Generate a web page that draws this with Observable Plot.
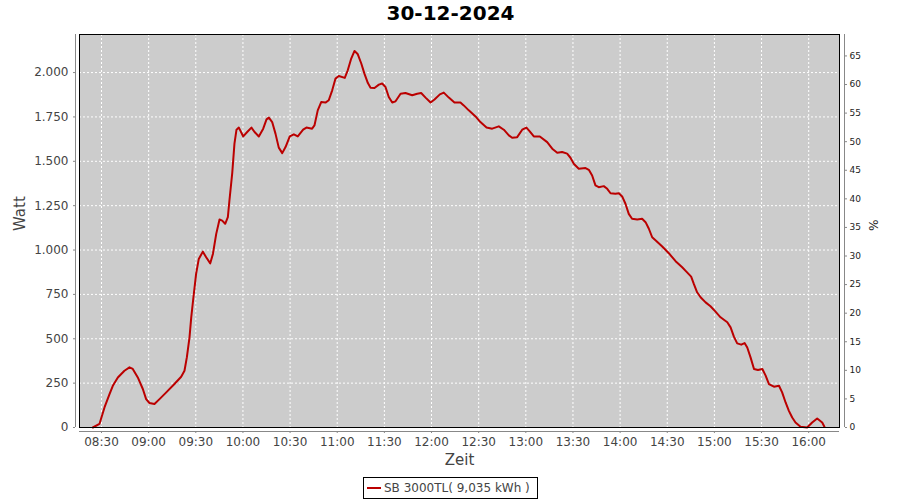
<!DOCTYPE html>
<html>
<head>
<meta charset="utf-8">
<script src="https://cdn.jsdelivr.net/npm/d3@7"></script>
<script src="https://cdn.jsdelivr.net/npm/@observablehq/plot@0.6"></script>
<style>
  body { margin: 0; background: #fff; font-family: "DejaVu Sans", sans-serif; }
  #wrap { position: relative; width: 900px; height: 500px; }
  #chart svg { display: block; }
  #legend {
    position: absolute; left: 363px; top: 477px; width: 175px; height: 22px;
    box-sizing: border-box; border: 1px solid #000; background: #fff;
    display: flex; align-items: center; font-size: 12px; color: #444;
    white-space: nowrap;
  }
  #legend .swatch { width: 14px; height: 2px; background: #bb0000; margin: 0 3px 0 3px; }
</style>
</head>
<body>
<div id="wrap">
  <div id="chart"></div>
  <div id="legend"><span class="swatch"></span><span id="legendText"></span></div>
</div>
<script>
// ---- data ----
const chartTitle = "30-12-2024";
const seriesName = "SB 3000TL( 9,035 kWh )";
const yLabel = "Watt";
const xLabel = "Zeit";
const y2Label = "%";

const times = [
  "08:24:30","08:28:42","08:31:54","08:35:06","08:37:12","08:40:24","08:44:36","08:47:48","08:49:54","08:53:06",
  "08:56:18","08:58:24","09:00:30","09:03:42","09:06:54","09:11:12","09:16:24","09:20:42","09:22:48","09:24:18",
  "09:26:00","09:27:06","09:28:30","09:30:12","09:31:54","09:34:30","09:36:36","09:39:12","09:40:54","09:43:00",
  "09:45:06","09:46:48","09:48:42","09:50:24","09:51:24","09:53:12","09:54:36","09:55:54","09:57:24","10:00:12",
  "10:02:42","10:05:24","10:07:24","10:10:06","10:12:54","10:15:00","10:16:30","10:18:36","10:20:42","10:22:48",
  "10:25:00","10:27:06","10:29:48","10:32:24","10:34:54","10:38:18","10:40:24","10:44:00","10:45:30","10:47:36",
  "10:49:48","10:52:30","10:54:36","10:56:48","10:58:54","11:01:00","11:04:48","11:06:42","11:08:54","11:11:00",
  "11:13:06","11:15:18","11:17:18","11:19:30","11:21:12","11:23:42","11:26:30","11:28:36","11:30:42","11:32:48",
  "11:35:00","11:37:06","11:40:18","11:43:24","11:47:42","11:50:54","11:53:24","11:56:12","11:59:24","12:01:54",
  "12:05:18","12:07:48","12:11:00","12:14:36","12:18:24","12:20:30","12:23:42","12:28:00","12:31:06","12:35:00",
  "12:38:36","12:42:48","12:46:00","12:49:12","12:51:18","12:54:30","12:57:42","13:00:24","13:02:30","13:05:06",
  "13:08:54","13:13:36","13:16:48","13:20:00","13:23:06","13:26:18","13:28:24","13:30:30","13:33:42","13:38:00",
  "13:40:06","13:42:12","13:44:18","13:46:24","13:49:36","13:51:48","13:53:54","13:57:00","13:59:12","14:01:18",
  "14:03:24","14:05:30","14:07:36","14:10:54","14:14:00","14:16:12","14:18:18","14:20:24","14:23:12","14:26:48",
  "14:31:00","14:35:18","14:39:30","14:42:00","14:45:12","14:46:54","14:49:00","14:51:12","14:54:24","14:57:30",
  "15:00:42","15:03:54","15:08:12","15:10:18","15:12:24","15:14:30","15:17:06","15:19:12","15:20:54","15:23:00",
  "15:25:12","15:27:42","15:30:30","15:32:36","15:34:42","15:37:54","15:41:06","15:43:06","15:45:18","15:47:24",
  "15:49:30","15:51:36","15:54:48","15:59:00","16:02:12","16:05:24","16:08:36","16:10:00"
];
const watts = [
  0, 20, 113, 188, 235, 282, 320, 339, 330, 282,
  217, 160, 138, 132, 160, 198, 245, 286, 320, 395,
  508, 621, 734, 866, 950, 991, 959, 925, 978, 1091,
  1172, 1166, 1148, 1185, 1279, 1435, 1600, 1678, 1690, 1640,
  1665, 1690, 1665, 1640, 1684, 1736, 1746, 1721, 1656, 1577,
  1546, 1580, 1640, 1652, 1640, 1678, 1690, 1684, 1702, 1787,
  1834, 1831, 1844, 1900, 1966, 1981, 1970, 2013, 2079, 2122,
  2103, 2051, 1994, 1941, 1915, 1913, 1932, 1938, 1919, 1862,
  1831, 1838, 1881, 1885, 1872, 1881, 1885, 1859, 1831, 1848,
  1877, 1887, 1859, 1831, 1831, 1815, 1787, 1753, 1721, 1690,
  1684, 1697, 1678, 1646, 1633, 1636, 1678, 1690, 1669, 1640,
  1640, 1608, 1571, 1548, 1552, 1543, 1520, 1486, 1458, 1462,
  1452, 1420, 1364, 1354, 1360, 1345, 1320, 1317, 1320, 1302,
  1261, 1204, 1176, 1172, 1176, 1157, 1120, 1072, 1050, 1020,
  982, 937, 903, 880, 850, 809, 762, 734, 705, 683,
  653, 621, 593, 564, 512, 474, 467, 476, 451, 395,
  330, 324, 330, 292, 245, 230, 235, 198, 141, 94,
  56, 28, 4, 0, 28, 51, 28, 4
];

const xTickLabels = ["08:30","09:00","09:30","10:00","10:30","11:00","11:30","12:00",
                     "12:30","13:00","13:30","14:00","14:30","15:00","15:30","16:00"];
const yTickValues = [0, 250, 500, 750, 1000, 1250, 1500, 1750, 2000];
const yTickLabels = ["0","250","500","750","1.000","1.250","1.500","1.750","2.000"];
const pctTicks = [0,5,10,15,20,25,30,35,40,45,50,55,60,65];

const xStart = "08:16:00", xEnd = "16:19:36";
const yMax = 2214.5;   // top of left axis (W)
const pctMax = 68.75;  // top of right axis (%)

// ---- build ----
const parseT = s => new Date(`2024-12-30T${s.length === 5 ? s + ":00" : s}Z`);
const data = times.map((t, i) => ({t: parseT(t), w: watts[i]}));
const xTicks = xTickLabels.map(parseT);
const xLabelMap = new Map(xTicks.map((d, i) => [+d, xTickLabels[i]]));
const yLabelMap = new Map(yTickValues.map((v, i) => [v, yTickLabels[i]]));
const pctPos = pctTicks.map(p => p * yMax / pctMax);
const pctLabelMap = new Map(pctPos.map((v, i) => [v, String(pctTicks[i])]));
const x0 = parseT(xStart), x1 = parseT(xEnd);

document.getElementById("legendText").textContent = seriesName;

const chart = Plot.plot({
  width: 900,
  height: 500,
  marginLeft: 79,
  marginRight: 61,
  marginTop: 34,
  marginBottom: 73,
  style: {fontFamily: "DejaVu Sans", background: "transparent", overflow: "visible"},
  x: {type: "utc", domain: [x0, x1]},
  y: {domain: [0, yMax]},
  marks: [
    Plot.frame({fill: "#cccccc", stroke: null}),
    Plot.gridX(xTicks, {stroke: "#ffffff", strokeOpacity: 1, strokeDasharray: "2,2"}),
    Plot.gridY(yTickValues, {stroke: "#ffffff", strokeOpacity: 1, strokeDasharray: "2,2"}),
    Plot.line(data, {x: "t", y: "w", stroke: "#bb0000", strokeWidth: 2}),
    Plot.frame({stroke: "#000000", strokeWidth: 1}),
    // axis lines (offset from the plot area)
    Plot.ruleX([x0], {y1: 0, y2: yMax, dx: -4, stroke: "#888888"}),
    Plot.ruleX([x1], {y1: 0, y2: yMax, dx: 5, stroke: "#888888"}),
    Plot.ruleY([0], {x1: () => x0, x2: () => x1, dy: 4, stroke: "#888888"}),
    Plot.axisX({ticks: xTicks, tickFormat: d => xLabelMap.get(+d), tickSize: 2, tickPadding: 4,
                dy: 4, fontSize: 12, fill: "#444444", stroke: "#888888", label: null}),
    Plot.axisY({anchor: "left", ticks: yTickValues, tickFormat: d => yLabelMap.get(d), tickSize: 2,
                tickPadding: 5, dx: -4, fontSize: 12, fill: "#444444", stroke: "#888888", label: null}),
    Plot.axisY({anchor: "right", ticks: pctPos, tickFormat: d => pctLabelMap.get(d), tickSize: 2,
                tickPadding: 3, dx: 5, fontSize: 9, fill: "#222222", stroke: "#888888", label: null}),
    // titles
    Plot.text([chartTitle], {frameAnchor: "top", dx: -9, dy: -20.5, lineAnchor: "middle",
                             fontSize: 20, fontWeight: "bold", fill: "#000000"}),
    Plot.text([yLabel], {frameAnchor: "left", dx: -59, rotate: -90, lineAnchor: "middle",
                         fontSize: 15, fill: "#444444"}),
    Plot.text([xLabel], {frameAnchor: "bottom", dy: 33, lineAnchor: "middle",
                         fontSize: 15, fill: "#444444"}),
    Plot.text([y2Label], {frameAnchor: "right", dx: 33, rotate: 90, lineAnchor: "middle",
                          fontSize: 12, fill: "#222222"})
  ]
});
document.getElementById("chart").appendChild(chart);
</script>
</body>
</html>
